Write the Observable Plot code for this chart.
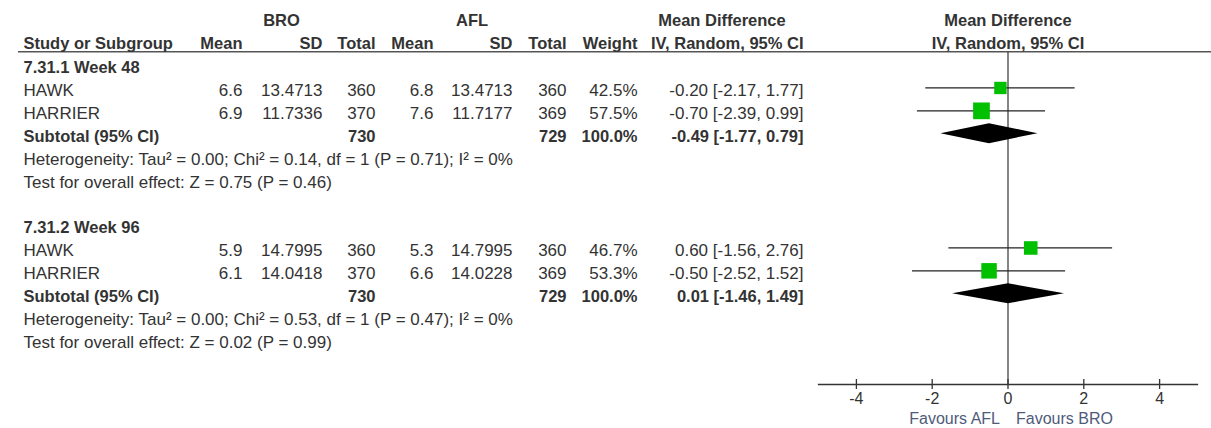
<!DOCTYPE html>
<html><head><meta charset="utf-8">
<script src="https://cdn.jsdelivr.net/npm/d3@7"></script>
<script src="https://cdn.jsdelivr.net/npm/@observablehq/plot@0.6"></script>
<style>
html,body{margin:0;padding:0;background:#fff;}
#chart svg{display:block;}
</style></head><body><div id="chart"></div>
<script>
// ---------- DATA ----------
const subgroups = ["7.31.1 Week 48", "7.31.2 Week 96"];
const studies = ["HAWK", "HARRIER", "HAWK", "HARRIER"];
const studyGroup = [0, 0, 1, 1];
const broMean = [6.6, 6.9, 5.9, 6.1];
const broSD = ["13.4713", "11.7336", "14.7995", "14.0418"];
const broN = [360, 370, 360, 370];
const aflMean = [6.8, 7.6, 5.3, 6.6];
const aflSD = ["13.4713", "11.7177", "14.7995", "14.0228"];
const aflN = [360, 369, 360, 369];
const weight = [42.5, 57.5, 46.7, 53.3];
const md = [-0.20, -0.70, 0.60, -0.50];
const mdLo = [-2.17, -2.39, -1.56, -2.52];
const mdHi = [1.77, 0.99, 2.76, 1.52];
const subLabel = "Subtotal (95% CI)";
const subBroN = [730, 730];
const subAflN = [729, 729];
const subWeight = [100.0, 100.0];
const subMd = [-0.49, 0.01];
const subLo = [-1.77, -1.46];
const subHi = [0.79, 1.49];
const heterogeneity = [
  "Heterogeneity: Tau² = 0.00; Chi² = 0.14, df = 1 (P = 0.71); I² = 0%",
  "Heterogeneity: Tau² = 0.00; Chi² = 0.53, df = 1 (P = 0.47); I² = 0%"
];
const overallTest = [
  "Test for overall effect: Z = 0.75 (P = 0.46)",
  "Test for overall effect: Z = 0.02 (P = 0.99)"
];
const groupHeaders = ["BRO", "AFL", "Mean Difference"];
const columnHeaders = ["Study or Subgroup", "Mean", "SD", "Total", "Mean", "SD", "Total", "Weight", "IV, Random, 95% CI"];
const plotHeaders = ["Mean Difference", "IV, Random, 95% CI"];
const xDomain = [-5, 5];
const xTicks = [-4, -2, 0, 2, 4];
const favours = ["Favours AFL", "Favours BRO"];

// ---------- LAYOUT ----------
const W = 1211, H = 428;
const ML = 818, MR = 14, MT = 52, MB = 44;
const FONT = "'Liberation Sans', Arial, Helvetica, sans-serif";
const TXT = "#333";
const FS = 17, FSB = 16.5;
const cols = {
  label:   {x: 23,    anchor: "start"},
  broGrp:  {x: 281,   anchor: "middle"},
  aflGrp:  {x: 471.5, anchor: "middle"},
  mdGrp:   {x: 721.5, anchor: "middle"},
  broMean: {x: 242,   anchor: "end"},
  broSD:   {x: 322,   anchor: "end"},
  broN:    {x: 375,   anchor: "end"},
  aflMean: {x: 433,   anchor: "end"},
  aflSD:   {x: 512,   anchor: "end"},
  aflN:    {x: 566,   anchor: "end"},
  weight:  {x: 637,   anchor: "end"},
  ci:      {x: 803,   anchor: "end"}
};
const headerCols = ["label", "broMean", "broSD", "broN", "aflMean", "aflSD", "aflN", "weight", "ci"];

// row keys (ordinal y domain)
const yDomain = ["hdr1", "hdr2"];
subgroups.forEach((g, gi) => {
  if (gi > 0) yDomain.push("sp" + gi);
  yDomain.push("g" + gi);
  studies.forEach((s, i) => { if (studyGroup[i] === gi) yDomain.push("s" + i); });
  yDomain.push("sub" + gi, "het" + gi, "test" + gi);
});

const f1 = v => v.toFixed(1);
const f2 = v => v.toFixed(2);
const ciText = (m, l, h) => `${f2(m)} [${f2(l)}, ${f2(h)}]`;

const cells = [];
const add = (row, col, text, bold = false) => cells.push({row, col, text, bold, hdr: row.startsWith("hdr")});
add("hdr1", "broGrp", groupHeaders[0], true);
add("hdr1", "aflGrp", groupHeaders[1], true);
add("hdr1", "mdGrp", groupHeaders[2], true);
columnHeaders.forEach((h, i) => add("hdr2", headerCols[i], h, true));
subgroups.forEach((g, gi) => {
  add("g" + gi, "label", g, true);
  studies.forEach((s, i) => {
    if (studyGroup[i] !== gi) return;
    const r = "s" + i;
    add(r, "label", s);
    add(r, "broMean", f1(broMean[i]));
    add(r, "broSD", broSD[i]);
    add(r, "broN", String(broN[i]));
    add(r, "aflMean", f1(aflMean[i]));
    add(r, "aflSD", aflSD[i]);
    add(r, "aflN", String(aflN[i]));
    add(r, "weight", f1(weight[i]) + "%");
    add(r, "ci", ciText(md[i], mdLo[i], mdHi[i]));
  });
  add("sub" + gi, "label", subLabel, true);
  add("sub" + gi, "broN", String(subBroN[gi]), true);
  add("sub" + gi, "aflN", String(subAflN[gi]), true);
  add("sub" + gi, "weight", f1(subWeight[gi]) + "%", true);
  add("sub" + gi, "ci", ciText(subMd[gi], subLo[gi], subHi[gi]), true);
  add("het" + gi, "label", heterogeneity[gi]);
  add("test" + gi, "label", overallTest[gi]);
});

const studyRows = studies.map((s, i) => ({key: "s" + i, md: md[i], lo: mdLo[i], hi: mdHi[i], w: weight[i]}));
const subRows = subgroups.map((g, gi) => ({key: "sub" + gi, md: subMd[gi], lo: subLo[gi], hi: subHi[gi]}));

// table text marks
const textMarks = [];
for (const [key, c] of Object.entries(cols)) {
  for (const bold of [false, true]) {
    for (const hdr of [false, true]) {
      const sub = cells.filter(d => d.col === key && d.bold === bold && d.hdr === hdr);
      if (!sub.length) continue;
      textMarks.push(Plot.text(sub, {
        y: "row", text: "text", frameAnchor: "left", dx: c.x - ML, dy: hdr ? 1 : 3,
        textAnchor: c.anchor, fill: TXT, fontWeight: bold ? "bold" : "normal", fontSize: bold ? FSB : FS
      }));
    }
  }
}

// header underline (double line across full width)
const underline = (index, scales, values, dims) => {
  const g = d3.create("svg:g");
  g.append("line").attr("x1", 18).attr("x2", dims.width).attr("y1", dims.marginTop - 0.5).attr("y2", dims.marginTop - 0.5)
    .attr("stroke", "#555").attr("stroke-width", 1);
  g.append("line").attr("x1", 18).attr("x2", dims.width).attr("y1", dims.marginTop + 0.5).attr("y2", dims.marginTop + 0.5)
    .attr("stroke", "#aaa").attr("stroke-width", 1);
  return g.node();
};

// subtotal diamonds via scales
const diamonds = (index, scales) => {
  const g = d3.create("svg:g");
  const hh = 10;
  for (const d of subRows) {
    const y = scales.y(d.key);
    const pts = [[scales.x(d.lo), y], [scales.x(d.md), y - hh], [scales.x(d.hi), y], [scales.x(d.md), y + hh]];
    g.append("path").attr("d", "M" + pts.map(p => p.join(",")).join("L") + "Z").attr("fill", "#000");
  }
  return g.node();
};

const chart = Plot.plot({
  width: W, height: H,
  marginLeft: ML, marginRight: MR, marginTop: MT, marginBottom: MB,
  style: {fontFamily: FONT, fontSize: "16px", color: TXT, background: "#fff"},
  x: {domain: xDomain},
  y: {type: "point", domain: yDomain, range: [18.9, 338.9], padding: 0, round: false, axis: null},
  r: {type: "linear", domain: [0, 100], range: [0, 16.4]},
  marks: [
    underline,
    Plot.ruleX([0], {stroke: "#333", strokeWidth: 1.2}),
    Plot.frame({anchor: "bottom", stroke: "#333", strokeWidth: 1.3}),
    Plot.axisX(xTicks, {tickSize: 10, dy: -5, tickPadding: 3, tickFormat: d => String(d), stroke: "#333", strokeWidth: 1.3, fill: TXT, fontSize: 16}),
    Plot.ruleY(studyRows, {y: "key", x1: "lo", x2: "hi", stroke: "#222", strokeWidth: 1.2}),
    Plot.dot(studyRows, {x: "md", y: "key", r: "w", symbol: "square", fill: "#00c000", stroke: null}),
    diamonds,
    Plot.text([plotHeaders[0]], {x: () => 0, y: () => "hdr1", text: d => d, dy: 1, fontWeight: "bold", fill: TXT, fontSize: FSB}),
    Plot.text([plotHeaders[1]], {x: () => 0, y: () => "hdr2", text: d => d, dy: 1, fontWeight: "bold", fill: TXT, fontSize: FSB}),
    Plot.text([favours[0]], {x: () => 0, text: d => d, frameAnchor: "bottom", dx: -8, dy: 34, textAnchor: "end", lineAnchor: "middle", fill: "#4f5b7a", fontSize: 16}),
    Plot.text([favours[1]], {x: () => 0, text: d => d, frameAnchor: "bottom", dx: 8, dy: 34, textAnchor: "start", lineAnchor: "middle", fill: "#4f5b7a", fontSize: 16}),
    ...textMarks
  ]
});
document.getElementById("chart").append(chart);
</script>
</body></html>
